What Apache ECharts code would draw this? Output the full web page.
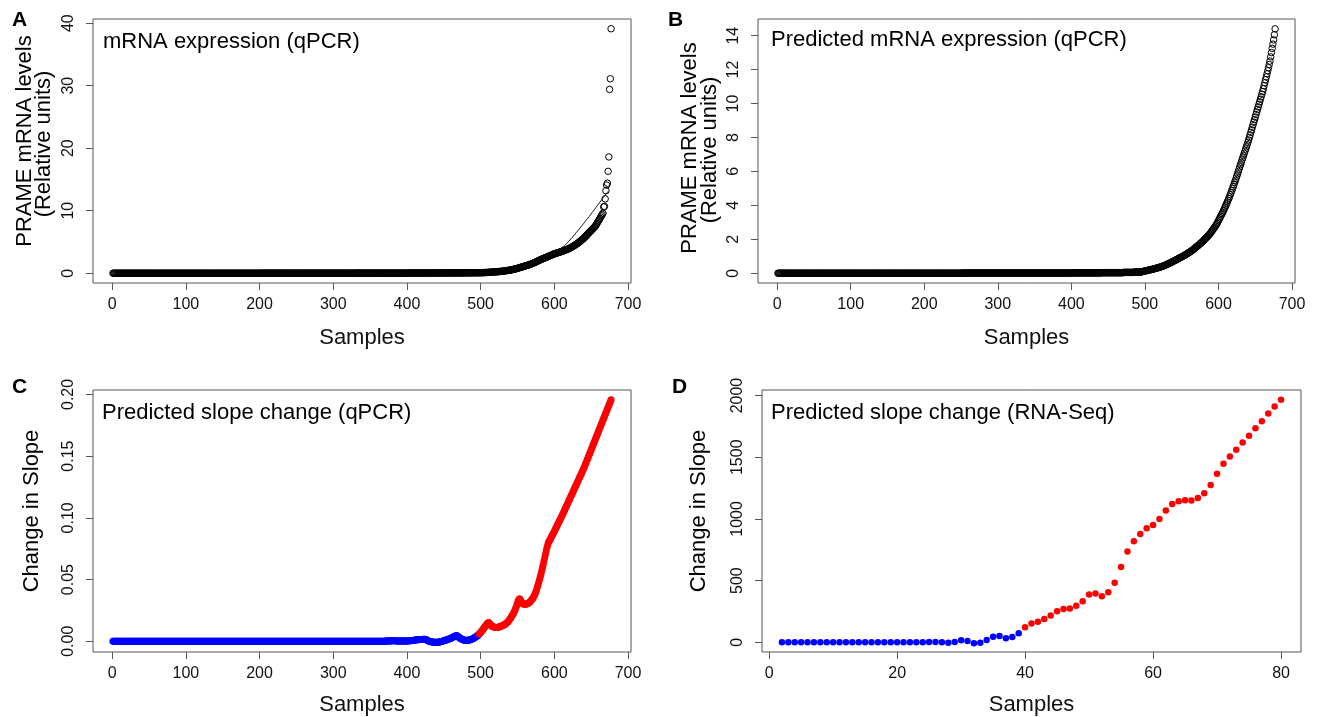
<!DOCTYPE html>
<html>
<head>
<meta charset="utf-8">
<script src="https://cdn.jsdelivr.net/npm/echarts/dist/echarts.min.js"></script>
<style>
html,body{margin:0;padding:0;background:#fff;}
#chart{width:1318px;height:717px;}
</style>
</head>
<body>
<div id="chart"></div>
<script>
// ---------------- DATA ----------------
// Panel A: measured PRAME mRNA levels (qPCR), sorted, samples 1..677
const aValues = [
0,0,0,0,0,0,0,0,0,0,0,0,0,0,0,0,0,0,0,0,
0,0,0,0,0,0,0,0,0,0,0,0,0,0,0,0,0,0,0,0,
0,0,0,0,0,0,0,0,0,0,0,0,0,0,0,0,0,0,0,0,
0,0,0,0,0,0,0,0,0,0,0,0,0,0,0,0,0,0,0,0,
0,0,0,0,0,0,0,0,0,0,0,0,0,0,0,0,0,0,0,0,
0,0,0,0,0,0,0,0,0,0,0,0,0,0,0,0,0,0,0,0,
0,0,0,0,0,0,0,0,0,0,0,0,0,0,0,0,0,0,0,0,
0,0,0,0,0,0,0,0,0,0,0,0,0,0,0,0,0,0,0,0,
0,0,0,0,0,0,0,0,0,0,0,0,0,0,0,0,0,0,0,0,
0,0,0,0,0,0,0,0,0,0,0,0,0,0,0,0,0,0,0,0,
0.01,0.01,0.01,0.01,0.01,0.01,0.01,0.01,0.01,0.01,0.01,0.01,0.01,0.01,0.01,0.01,0.01,0.01,0.01,0.01,
0.01,0.01,0.01,0.01,0.01,0.01,0.01,0.01,0.01,0.01,0.01,0.01,0.01,0.01,0.01,0.01,0.01,0.01,0.01,0.01,
0.01,0.01,0.01,0.01,0.01,0.01,0.01,0.01,0.01,0.01,0.01,0.01,0.01,0.01,0.01,0.01,0.01,0.01,0.01,0.01,
0.01,0.01,0.01,0.01,0.01,0.01,0.01,0.01,0.01,0.01,0.01,0.01,0.01,0.01,0.01,0.01,0.01,0.01,0.01,0.01,
0.01,0.01,0.01,0.01,0.01,0.01,0.01,0.01,0.01,0.01,0.01,0.01,0.01,0.01,0.01,0.01,0.01,0.01,0.01,0.01,
0.01,0.01,0.01,0.01,0.01,0.01,0.01,0.01,0.01,0.01,0.01,0.01,0.01,0.01,0.01,0.01,0.01,0.01,0.01,0.01,
0.01,0.01,0.01,0.01,0.01,0.01,0.01,0.01,0.01,0.01,
0.02,0.02,0.02,0.02,0.02,0.02,0.02,0.02,0.02,0.02,0.02,0.02,0.02,0.02,0.02,0.02,0.02,0.02,0.02,0.02,
0.02,0.02,0.02,0.02,0.02,0.02,0.02,0.02,0.02,0.02,0.02,0.02,0.02,0.02,0.02,0.02,0.02,0.02,0.02,0.02,
0.02,0.02,0.02,0.02,0.02,0.02,0.02,0.02,0.02,0.02,0.02,0.02,0.02,0.02,0.02,0.02,0.02,0.02,0.02,0.02,
0.02,0.02,0.02,0.02,0.02,0.02,0.02,0.02,0.02,0.02,
0.03,0.03,0.03,0.03,0.03,0.03,0.03,0.03,0.03,0.03,0.03,0.03,0.03,0.03,0.03,0.03,0.03,0.03,0.03,0.03,
0.03,0.03,0.03,0.03,0.03,0.03,0.03,0.03,0.03,0.03,
0.04,0.04,0.04,0.04,0.04,0.04,0.04,0.04,0.04,0.04,0.04,0.04,0.04,0.04,0.04,0.04,0.04,0.04,0.04,0.04,
0.05,0.05,0.05,0.05,0.05,0.05,0.05,0.05,0.05,0.05,0.05,0.05,0.05,0.05,0.05,
0.06,0.06,0.06,0.06,0.06,0.06,0.06,0.06,0.06,0.06,0.06,0.06,0.06,0.06,0.06,
0.07,0.07,0.07,0.07,0.07,0.07,0.07,0.07,0.07,0.07,
0.08,0.08,0.08,0.08,0.08,0.08,0.08,0.08,0.08,0.08,
0.09,0.09,0.10,0.10,0.11,0.11,0.12,0.12,0.13,0.14,
0.15,0.15,0.16,0.17,0.18,0.19,0.20,0.21,0.21,0.22,
0.23,0.24,0.25,0.26,0.27,0.28,0.29,0.31,0.32,0.33,
0.35,0.36,0.38,0.40,0.42,0.43,0.45,0.46,0.48,0.50,
0.53,0.55,0.58,0.61,0.63,0.66,0.69,0.72,0.75,0.78,
0.82,0.86,0.90,0.93,0.97,1.00,1.03,1.07,1.11,1.15,
1.18,1.22,1.25,1.29,1.32,1.36,1.40,1.45,1.50,1.55,
1.60,1.65,1.70,1.75,1.80,1.86,1.92,1.98,2.04,2.10,
2.15,2.20,2.25,2.30,2.35,2.40,2.45,2.50,2.55,2.60,
2.65,2.70,2.75,2.80,2.85,2.90,2.95,3.00,3.05,3.10,
3.14,3.18,3.22,3.26,3.30,3.33,3.37,3.40,3.44,3.48,
3.53,3.57,3.61,3.65,3.70,3.75,3.80,3.85,3.90,3.95,
4.00,4.07,4.14,4.21,4.28,4.35,4.42,4.50,4.58,4.66,
4.74,4.82,4.90,5.00,5.10,5.20,5.30,5.40,5.50,5.60,
5.72,5.84,5.96,6.10,6.22,6.35,6.48,6.60,6.72,6.84,
6.96,7.08,7.20,7.32,7.45,7.60,7.80,8.00,8.20,8.40,
8.60,8.80,9.00,9.20,9.40,9.60,10.6,10.7,11.9,13.2,
14.1,14.4,16.3,18.6,29.4,31.1,39.1
];
// Panel A: thin fitted curve drawn over the points
const aFitX = [550,560,570,580,590,600,607,614,621,628,635,642,649,656,663,670,673];
const aFitY = [0.80,1.15,1.60,2.10,2.65,3.30,3.85,4.45,5.30,6.25,7.25,8.30,9.35,10.45,11.55,12.65,13.10];

// Panel B: predicted mRNA expression (qPCR), samples 1..677
const bValues = [
0,0,0,0,0,0,0,0,0,0,0,0,0,0,0,0,0,0,0,0,
0,0,0,0,0,0,0,0,0,0,0,0,0,0,0,0,0,0,0,0,
0,0,0,0,0,0,0,0,0,0,0,0,0,0,0,0,0,0,0,0,
0,0,0,0,0,0,0,0,0,0,0,0,0,0,0,0,0,0,0,0,
0,0,0,0,0,0,0,0,0,0,0,0,0,0,0,0,0,0,0,0,
0,0,0,0,0,0,0,0,0,0,0,0,0,0,0,0,0,0,0,0,
0,0,0,0,0,0,0,0,0,0,0,0,0,0,0,0,0,0,0,0,
0,0,0,0,0,0,0,0,0,0,0,0,0,0,0,0,0,0,0,0,
0,0,0,0,0,0,0,0,0,0,0,0,0,0,0,0,0,0,0,0,
0,0,0,0,0,0,0,0,0,0,0,0,0,0,0,0,0,0,0,0,
0,0,0,0,0,0,0,0,0,0,0,0,0,0,0,0,0,0,0,0,
0,0,0,0,0,0,0,0,0,0,0,0,0,0,0,0,0,0,0,0,
0,0,0,0,0,0,0,0,0,0,
0.01,0.01,0.01,0.01,0.01,0.01,0.01,0.01,0.01,0.01,0.01,0.01,0.01,0.01,0.01,0.01,0.01,0.01,0.01,0.01,
0.01,0.01,0.01,0.01,0.01,0.01,0.01,0.01,0.01,0.01,0.01,0.01,0.01,0.01,0.01,0.01,0.01,0.01,0.01,0.01,
0.01,0.01,0.01,0.01,0.01,0.01,0.01,0.01,0.01,0.01,0.01,0.01,0.01,0.01,0.01,0.01,0.01,0.01,0.01,0.01,
0.01,0.01,0.01,0.01,0.01,0.01,0.01,0.01,0.01,0.01,0.01,0.01,0.01,0.01,0.01,0.01,0.01,0.01,0.01,0.01,
0.01,0.01,0.01,0.01,0.01,0.01,0.01,0.01,0.01,0.01,0.01,0.01,0.01,0.01,0.01,0.01,0.01,0.01,0.01,0.01,
0.01,0.01,0.01,0.01,0.01,0.01,0.01,0.01,0.01,0.01,0.01,0.01,0.01,0.01,0.01,0.01,0.01,0.01,0.01,0.01,
0.01,0.01,0.01,0.01,0.01,0.01,0.01,0.01,0.01,0.01,0.01,0.01,0.01,0.01,0.01,0.01,0.01,0.01,0.01,0.01,
0.01,0.01,0.01,0.01,0.01,0.01,0.01,0.01,0.01,0.01,
0.02,0.02,0.02,0.02,0.02,0.02,0.02,0.02,0.02,0.02,0.02,0.02,0.02,0.02,0.02,0.02,0.02,0.02,0.02,0.02,
0.02,0.02,0.02,0.02,0.02,0.02,0.02,0.02,0.02,0.02,0.02,0.02,0.02,0.02,0.02,0.02,0.02,0.02,0.02,0.02,
0.03,0.03,0.03,0.03,0.03,0.03,0.03,0.03,0.03,0.03,0.03,0.03,0.03,0.03,0.03,0.03,0.03,0.03,0.03,0.03,
0.03,0.03,0.03,0.03,0.03,0.03,0.03,0.03,0.03,0.03,
0.05,0.05,0.05,0.05,0.05,0.05,0.05,0.05,0.05,0.05,0.05,0.05,0.05,0.05,0.05,
0.07,0.07,0.07,0.07,0.07,0.07,0.07,0.07,0.07,0.07,
0.09,0.10,0.11,0.12,0.13,
0.14,0.15,0.16,0.17,0.18,0.19,0.20,0.21,0.22,0.23,
0.24,0.25,0.27,0.28,0.29,0.30,0.31,0.32,0.34,0.35,
0.37,0.38,0.40,0.41,0.43,0.44,0.46,0.48,0.50,0.52,
0.54,0.56,0.58,0.60,0.62,0.64,0.67,0.69,0.71,0.74,
0.76,0.78,0.80,0.83,0.85,0.87,0.90,0.92,0.94,0.97,
0.99,1.01,1.04,1.06,1.08,1.11,1.14,1.17,1.20,1.22,
1.25,1.28,1.31,1.34,1.37,1.40,1.44,1.48,1.52,1.55,
1.59,1.62,1.66,1.70,1.74,1.77,1.81,1.85,1.89,1.94,
1.98,2.03,2.07,2.12,2.16,2.21,2.26,2.30,2.36,2.42,
2.48,2.54,2.60,2.66,2.72,2.79,2.85,2.93,3.01,3.10,
3.18,3.27,3.35,3.44,3.52,3.60,3.70,3.80,3.90,4.00,
4.10,4.20,4.30,4.40,4.50,4.62,4.74,4.86,4.98,5.10,
5.22,5.35,5.47,5.60,5.73,5.86,6.00,6.13,6.27,6.40,
6.53,6.67,6.80,6.93,7.06,7.19,7.32,7.45,7.58,7.72,
7.85,8.00,8.15,8.30,8.45,8.60,8.75,8.90,9.05,9.20,
9.35,9.50,9.65,9.80,9.95,10.10,10.25,10.40,10.55,10.70,
10.87,11.05,11.22,11.40,11.57,11.75,11.93,12.11,12.30,12.50,
12.75,13.00,13.25,13.50,13.75,14.05,14.40
];

// Panel C: predicted slope change (qPCR), samples 1..677
const cValues = [
0,0,0,0,0,0,0,0,0,0,0,0,0,0,0,0,0,0,0,0,
0,0,0,0,0,0,0,0,0,0,0,0,0,0,0,0,0,0,0,0,
0,0,0,0,0,0,0,0,0,0,0,0,0,0,0,0,0,0,0,0,
0,0,0,0,0,0,0,0,0,0,0,0,0,0,0,0,0,0,0,0,
0,0,0,0,0,0,0,0,0,0,0,0,0,0,0,0,0,0,0,0,
0,0,0,0,0,0,0,0,0,0,0,0,0,0,0,0,0,0,0,0,
0,0,0,0,0,0,0,0,0,0,0,0,0,0,0,0,0,0,0,0,
0,0,0,0,0,0,0,0,0,0,0,0,0,0,0,0,0,0,0,0,
0,0,0,0,0,0,0,0,0,0,0,0,0,0,0,0,0,0,0,0,
0,0,0,0,0,0,0,0,0,0,0,0,0,0,0,0,0,0,0,0,
0,0,0,0,0,0,0,0,0,0,0,0,0,0,0,0,0,0,0,0,
0,0,0,0,0,0,0,0,0,0,0,0,0,0,0,0,0,0,0,0,
0,0,0,0,0,0,0,0,0,0,0,0,0,0,0,0,0,0,0,0,
0,0,0,0,0,0,0,0,0,0,0,0,0,0,0,0,0,0,0,0,
0,0,0,0,0,0,0,0,0,0,0,0,0,0,0,0,0,0,0,0,
0,0,0,0,0,0,0,0,0,0,0,0,0,0,0,0,0,0,0,0,
0,0,0,0,0,0,0,0,0,0,0,0,0,0,0,0,0,0,0,0,
0,0,0,0,0,0,0,0,0,0,0,0,0,0,0,0,0,0,0,0,
0,0,0,0,0,0,0,0,0,0,
0.0002,0.0002,0.0002,0.0002,0.0002,0.0002,0.0002,0.0002,
0.0005,0.0005,0.0005,0.0005,0.0005,0.0005,0.0005,
0.0002,0.0002,0.0002,0.0002,0.0002,0.0002,0.0002,0.0002,0.0002,0.0002,0.0002,0.0002,0.0002,0.0002,0.0002,
0.0003,0.0003,0.0004,0.0004,0.0005,0.0005,0.0006,0.0007,0.0008,0.0009,
0.0010,0.0011,0.0012,0.0012,0.0013,0.0013,0.0014,0.0014,0.0015,0.0015,
0.0015,0.0016,0.0016,0.0016,0.0015,0.0013,0.0010,0.0007,0.0004,0.0001,
-0.0001,-0.0003,-0.0004,-0.0005,-0.0006,-0.0007,-0.0007,-0.0008,-0.0008,-0.0008,
-0.0008,-0.0007,-0.0006,-0.0005,-0.0004,-0.0003,-0.0001,0.0001,0.0003,0.0005,
0.0007,0.0009,0.0011,0.0013,0.0015,0.0017,0.0019,0.0021,0.0023,0.0026,
0.0029,0.0032,0.0035,0.0038,0.0041,0.0044,0.0046,0.0044,0.0040,0.0035,
0.0031,0.0027,0.0023,0.0019,0.0016,0.0013,0.0011,0.0009,0.0008,0.0008,
0.0008,0.0008,0.0009,0.0010,0.0011,0.0013,0.0015,0.0017,0.0020,0.0023,
0.0026,0.0030,0.0034,0.0038,0.0042,0.0047,0.0052,0.0058,0.0064,0.0071,
0.0079,0.0087,0.0095,0.0103,0.0111,0.0119,0.0127,0.0135,0.0143,0.0150,
0.0152,0.0145,0.0136,0.0129,0.0124,0.0120,0.0117,0.0115,0.0113,0.0112,
0.0112,0.0112,0.0113,0.0114,0.0116,0.0118,0.0120,0.0122,0.0125,0.0128,
0.0131,0.0134,0.0137,0.0141,0.0146,0.0152,0.0159,0.0166,0.0174,0.0182,
0.0191,0.0200,0.0210,0.0221,0.0233,0.0246,0.0260,0.0275,0.0292,0.0310,
0.0328,0.0340,0.0345,0.0335,0.0322,0.0312,0.0306,0.0302,0.0300,0.0300,
0.0300,0.0301,0.0303,0.0306,0.0310,0.0315,0.0321,0.0328,0.0335,0.0342,
0.0350,0.0360,0.0372,0.0386,0.0402,0.0420,0.0440,0.0460,0.0481,0.0502,
0.0524,0.0548,0.0573,0.0599,0.0625,0.0652,0.0679,0.0706,0.0733,0.0760,
0.0780,0.0800,0.0812,0.0820,0.0832,0.0844,0.0856,0.0868,0.0880,0.0892,
0.0904,0.0916,0.0928,0.0940,0.0952,0.0964,0.0976,0.0988,0.1000,0.1012,
0.1025,0.1038,0.1051,0.1064,0.1077,0.1090,0.1103,0.1116,0.1129,0.1142,
0.1155,0.1168,0.1181,0.1194,0.1207,0.1220,0.1233,0.1246,0.1259,0.1272,
0.1285,0.1298,0.1311,0.1324,0.1337,0.1350,0.1363,0.1376,0.1389,0.1402,
0.1417,0.1432,0.1447,0.1462,0.1477,0.1492,0.1507,0.1522,0.1537,0.1552,
0.1567,0.1582,0.1597,0.1612,0.1627,0.1642,0.1657,0.1672,0.1687,0.1702,
0.1717,0.1732,0.1747,0.1762,0.1777,0.1792,0.1807,0.1822,0.1837,0.1852,
0.1867,0.1882,0.1897,0.1912,0.1927,0.1942,0.1957
];
const cLastBlue = 497; // samples 1..497 blue, the rest red

// Panel D: predicted slope change (RNA-Seq), samples 2..80
const dSamples = [2,3,4,5,6,7,8,9,10,11,12,13,14,15,16,17,18,19,20,21,22,23,24,25,26,27,28,29,30,31,32,33,34,35,36,37,38,39,40,41,42,43,44,45,46,47,48,49,50,51,52,53,54,55,56,57,58,59,60,61,62,63,64,65,66,67,68,69,70,71,72,73,74,75,76,77,78,79,80];
const dValues = [0,0,0,0,0,0,0,0,0,0,0,0,0,0,0,0,0,0,0,0,0,0,0,2,3,0,-3,3,16,11,-8,-5,19,45,50,33,43,72,
121,153,166,188,217,252,269,274,295,333,387,395,373,405,483,610,736,819,878,924,950,999,1069,1120,1144,1152,1149,1170,1208,1275,1367,1447,1506,1560,1619,1675,1734,1791,1855,1911,1965];
const dLastBlue = 39;

// tick labels
const ticksSamples = [0,100,200,300,400,500,600,700];
const ticksA = [0,10,20,30,40];
const ticksB = [0,2,4,6,8,10,12,14];
const ticksC = [0,0.05,0.10,0.15,0.20];
const ticksDx = [0,20,40,60,80];
const ticksDy = [0,500,1000,1500,2000];

// ---------------- CHART ----------------
const FONT = '"Liberation Sans", Arial, Helvetica, sans-serif';
const AXC = '#555';
const TXT = '#111';

function xAx(grid, min, max, ticks, gap) {
  return {
    type: 'value', gridIndex: grid, min: min, max: max,
    splitLine: {show: false},
    axisLine: {show: false, onZero: false},
    axisTick: {show: true, inside: false, length: 7, lineStyle: {color: AXC, width: 1}, customValues: ticks},
    axisLabel: {customValues: ticks, fontSize: 16, color: TXT, fontFamily: FONT, margin: 14},
    name: 'Samples', nameLocation: 'middle', nameGap: gap,
    nameTextStyle: {fontSize: 22, color: TXT, fontFamily: FONT}
  };
}
function yAx(grid, min, max, ticks, fmt) {
  return {
    type: 'value', gridIndex: grid, min: min, max: max,
    splitLine: {show: false},
    axisLine: {show: false, onZero: false},
    axisTick: {show: true, inside: false, length: 7, lineStyle: {color: AXC, width: 1}, customValues: ticks},
    axisLabel: {customValues: ticks, fontSize: 16, color: TXT, fontFamily: FONT, margin: 16, rotate: 90,
      formatter: fmt || (v => String(v))}
  };
}
const pairs = (arr, first) => arr.map((v, i) => [first + i, v]);

const openCircle = {color: 'rgba(0,0,0,0)', borderColor: '#000', borderWidth: 1, opacity: 1};

function txt(x, y, s, size, opts) {
  return Object.assign({
    type: 'text', x: x, y: y, silent: true,
    style: {text: s, fill: '#000', font: (opts && opts.bold ? 'bold ' : '') + size + 'px ' + FONT,
      textAlign: (opts && opts.align) || 'left', textVerticalAlign: 'middle'}
  }, opts && opts.rot ? {rotation: Math.PI / 2} : {});
}

const chart = echarts.init(document.getElementById('chart'), null, {renderer: 'canvas'});
chart.setOption({
  animation: false,
  backgroundColor: '#fff',
  grid: [
    {left: 93, top: 19, width: 538, height: 264, show: true, borderColor: AXC, borderWidth: 1, backgroundColor: 'transparent'},
    {left: 758, top: 19, width: 537, height: 264, show: true, borderColor: AXC, borderWidth: 1, backgroundColor: 'transparent'},
    {left: 93, top: 390, width: 538, height: 264, show: true, borderColor: AXC, borderWidth: 1, backgroundColor: 'transparent'},
    {left: 762, top: 390, width: 539, height: 264, show: true, borderColor: AXC, borderWidth: 1, backgroundColor: 'transparent'}
  ],
  xAxis: [
    xAx(0, -26.04, 704.04, ticksSamples, 44),
    xAx(1, -26.04, 704.04, ticksSamples, 44),
    xAx(2, -26.04, 704.04, ticksSamples, 42),
    xAx(3, -1.12, 83.12, ticksDx, 42)
  ],
  yAxis: [
    yAx(0, -1.56, 40.66, ticksA),
    yAx(1, -0.576, 14.98, ticksB),
    yAx(2, -0.0087, 0.2036, ticksC, v => v.toFixed(2)),
    yAx(3, -79, 2045, ticksDy)
  ],
  series: [
    {type: 'scatter', xAxisIndex: 0, yAxisIndex: 0, symbol: 'circle', symbolSize: 6.5,
      itemStyle: openCircle, data: pairs(aValues, 1), silent: true},
    {type: 'line', xAxisIndex: 0, yAxisIndex: 0, showSymbol: false, smooth: true,
      lineStyle: {color: '#111', width: 1}, data: aFitX.map((x, i) => [x, aFitY[i]]), silent: true},
    {type: 'scatter', xAxisIndex: 1, yAxisIndex: 1, symbol: 'circle', symbolSize: 6.5,
      itemStyle: openCircle, data: pairs(bValues, 1), silent: true},
    {type: 'scatter', xAxisIndex: 2, yAxisIndex: 2, symbol: 'circle', symbolSize: 7,
      itemStyle: {color: '#0000ff', opacity: 1}, data: pairs(cValues.slice(0, cLastBlue), 1), silent: true},
    {type: 'scatter', xAxisIndex: 2, yAxisIndex: 2, symbol: 'circle', symbolSize: 7,
      itemStyle: {color: '#ff0000', opacity: 1}, data: pairs(cValues.slice(cLastBlue), cLastBlue + 1), silent: true},
    {type: 'scatter', xAxisIndex: 3, yAxisIndex: 3, symbol: 'circle', symbolSize: 6.5,
      itemStyle: {color: '#0000ff', opacity: 1},
      data: dSamples.map((x, i) => [x, dValues[i]]).filter(p => p[0] <= dLastBlue), silent: true},
    {type: 'scatter', xAxisIndex: 3, yAxisIndex: 3, symbol: 'circle', symbolSize: 6.5,
      itemStyle: {color: '#ff0000', opacity: 1},
      data: dSamples.map((x, i) => [x, dValues[i]]).filter(p => p[0] > dLastBlue), silent: true}
  ],
  graphic: [
    txt(12, 20, 'A', 21, {bold: true}),
    txt(668, 20, 'B', 21, {bold: true}),
    txt(12, 387, 'C', 21, {bold: true}),
    txt(672, 387, 'D', 21, {bold: true}),
    txt(103, 42, 'mRNA expression (qPCR)', 22),
    txt(771, 40, 'Predicted mRNA expression (qPCR)', 22),
    txt(102, 413, 'Predicted slope change (qPCR)', 22),
    txt(771, 413, 'Predicted slope change (RNA-Seq)', 22),
    txt(25, 141, 'PRAME mRNA levels', 22, {rot: true, align: 'center'}),
    txt(44, 144, '(Relative units)', 22, {rot: true, align: 'center'}),
    txt(690, 148, 'PRAME mRNA levels', 22, {rot: true, align: 'center'}),
    txt(710, 150, '(Relative units)', 22, {rot: true, align: 'center'}),
    txt(32, 511, 'Change in Slope', 22, {rot: true, align: 'center'}),
    txt(699, 511, 'Change in Slope', 22, {rot: true, align: 'center'})
  ]
});
</script>
</body>
</html>
